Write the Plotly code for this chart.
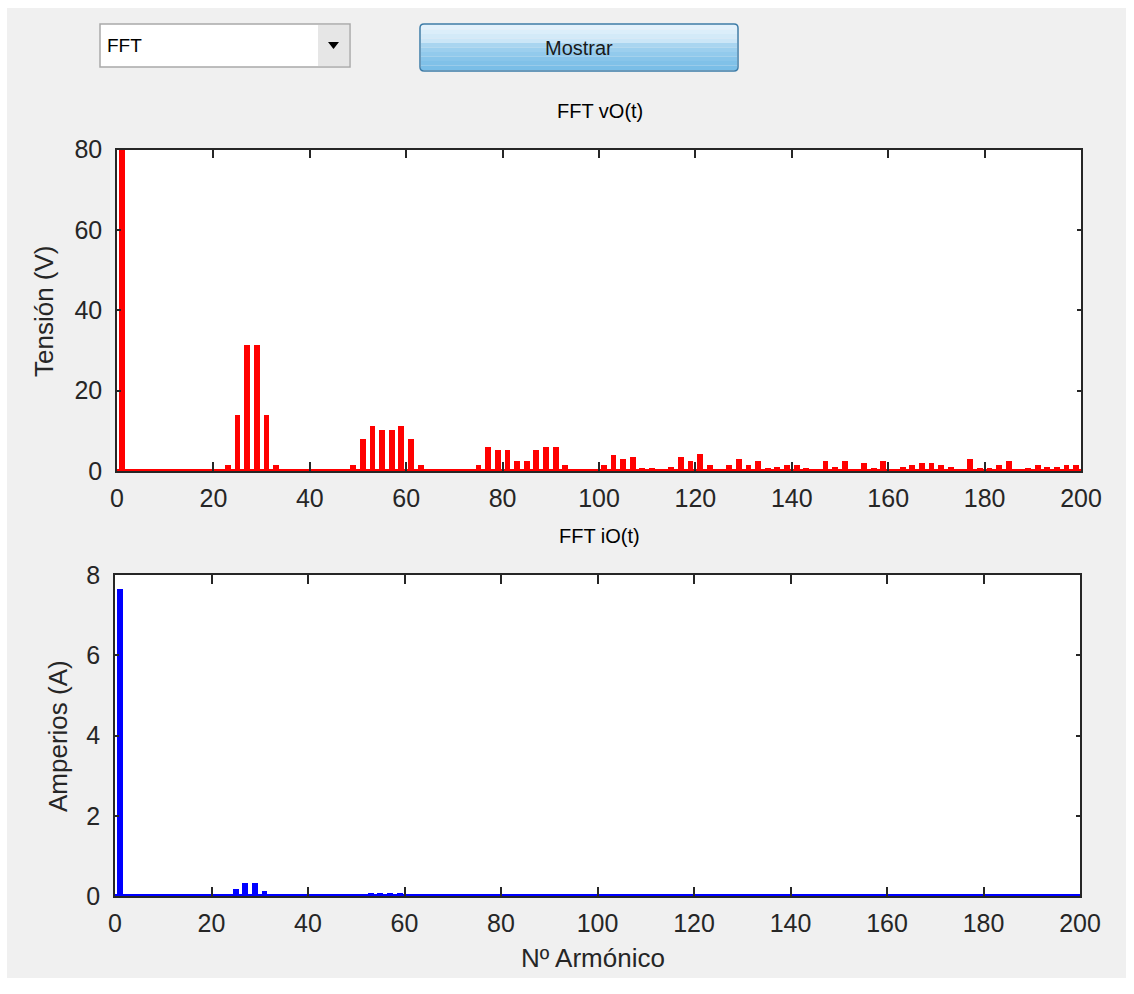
import plotly.graph_objects as go

# Odd harmonic orders 1..199 and the FFT magnitudes of the output voltage and current
armonicos = list(range(1, 200, 2))

# Amplitud de cada armónico de vO(t) [V]
tension_v = [
    100.0,                                                  # 1
    0, 0, 0, 0, 0, 0, 0, 0, 0, 0,                           # 3-21
    1.5, 14.0, 31.5, 31.5, 14.0, 1.5,                       # 23-33
    0, 0, 0, 0, 0, 0, 0,                                    # 35-47
    1.7, 8.2, 11.4, 10.3, 10.3, 11.4, 8.2, 1.7,             # 49-63
    0, 0, 0, 0, 0,                                          # 65-73
    1.7, 6.0, 5.4, 5.4, 2.7, 2.7, 5.4, 6.0, 6.0, 1.7,       # 75-93
    0, 0, 0,                                                # 95-99
    1.6, 4.2, 3.2, 3.7, 0.8, 0.8, 0, 1.1, 3.7, 2.7,         # 101-119
    4.3, 1.6, 0, 1.6, 3.1, 1.6, 2.7, 0.8, 1.1, 1.6,         # 121-139
    1.6, 0.8, 0, 2.7, 1.1, 2.7, 0, 2.2, 0.8, 2.7,           # 141-159
    0, 1.1, 1.6, 2.2, 2.2, 1.6, 1.1, 0, 3.2, 0.8,           # 161-179
    0.8, 1.6, 2.7, 0, 0.8, 1.6, 1.1, 1.1, 1.6, 1.6,         # 181-199
]

# Amplitud de cada armónico de iO(t) [A]
corriente_a = [
    7.65,                                                   # 1
    0, 0, 0, 0, 0, 0, 0, 0, 0, 0,                           # 3-21
    0.01, 0.17, 0.33, 0.33, 0.12, 0.01,                     # 23-33
    0, 0, 0, 0, 0, 0, 0,                                    # 35-47
    0.01, 0.04, 0.08, 0.08, 0.08, 0.08, 0.05, 0.01,         # 49-63
] + [0] * 68                                                # 65-199

x_ticks = list(range(0, 201, 20))
v_ticks = [0, 20, 40, 60, 80]
a_ticks = [0, 2, 4, 6, 8]
X_MAX = 200

# The page body keeps its default 8 px margin, so the figure is sized to fit
# inside the 1134x994 window without scrollbars.
PAGE_W, PAGE_H, BODY_M = 1134, 994, 8
W, H = PAGE_W - BODY_M, PAGE_H - 2 * BODY_M
BG = "#f0f0f0"
INK = "#262626"
FONT = "Liberation Sans, Arial, sans-serif"


def px(x):
    return x / W


def py(y):
    return 1 - y / H


fig = go.Figure()

fig.add_trace(go.Bar(x=armonicos, y=tension_v, width=1.2,
                     marker=dict(color="#ff0000", line=dict(width=0)),
                     xaxis="x", yaxis="y"))
fig.add_trace(go.Scatter(x=[0, X_MAX], y=[0, 0], mode="lines",
                         line=dict(color="#ff0000", width=4),
                         xaxis="x", yaxis="y", hoverinfo="skip"))
fig.add_trace(go.Bar(x=armonicos, y=corriente_a, width=1.2,
                     marker=dict(color="#0000ff", line=dict(width=0)),
                     xaxis="x2", yaxis="y2"))
fig.add_trace(go.Scatter(x=[0, X_MAX], y=[0, 0], mode="lines",
                         line=dict(color="#0000ff", width=4),
                         xaxis="x2", yaxis="y2", hoverinfo="skip"))

tick_font = dict(family=FONT, size=25, color=INK)
common_x = dict(range=[0, X_MAX], tickvals=x_ticks, ticks="inside", ticklen=9,
                tickwidth=1.5, tickcolor=INK, showline=True, linecolor=INK,
                linewidth=1.5, mirror="ticks", showgrid=False, zeroline=False,
                tickfont=tick_font, ticklabelstandoff=4, automargin=False)
common_y = dict(ticks="inside", ticklen=4, tickwidth=1.5, tickcolor=INK,
                showline=True, linecolor=INK, linewidth=1.5, mirror="ticks",
                showgrid=False, zeroline=False, tickfont=tick_font,
                ticklabelstandoff=8, automargin=False)

fig.update_layout(
    width=W, height=H,
    margin=dict(l=0, r=0, t=0, b=0, pad=0),
    paper_bgcolor=BG, plot_bgcolor="white",
    showlegend=False, bargap=0,
    xaxis=dict(domain=[px(117), px(1081)], anchor="y", **common_x),
    yaxis=dict(domain=[py(471), py(149.5)], anchor="x", range=[0, 80],
               tickvals=v_ticks, **common_y),
    xaxis2=dict(domain=[px(115), px(1080)], anchor="y2", **common_x),
    yaxis2=dict(domain=[py(896), py(575)], anchor="x2", range=[0, 8],
                tickvals=a_ticks, **common_y),
)

shapes = []
# white window border along the top and left edges
shapes.append(dict(type="rect", xref="paper", yref="paper", x0=0, x1=1,
                   y0=py(8), y1=1, fillcolor="white", line=dict(width=0)))
shapes.append(dict(type="rect", xref="paper", yref="paper", x0=0, x1=px(7),
                   y0=0, y1=1, fillcolor="white", line=dict(width=0)))

# popup menu
shapes.append(dict(type="rect", xref="paper", yref="paper",
                   x0=px(100), x1=px(350), y0=py(67), y1=py(24),
                   fillcolor="white", line=dict(color="#a9a9a9", width=1.5)))
shapes.append(dict(type="rect", xref="paper", yref="paper",
                   x0=px(318), x1=px(349), y0=py(66), y1=py(25),
                   fillcolor="#e6e6e6", line=dict(width=0)))
shapes.append(dict(type="path", xref="paper", yref="paper",
                   path=f"M {px(328)},{py(42)} L {px(339)},{py(42)} L {px(333.5)},{py(49)} Z",
                   fillcolor="black", line=dict(width=0)))

# push button with a vertical gradient
grad = ["#e3f1fb", "#dbeefa", "#d3eaf8", "#cbe6f7", "#a9d5f0",
        "#9ccfee", "#92caec", "#88c5ea", "#80c1e8", "#7abee7"]
top, bottom = 25, 70
step = (bottom - top) / len(grad)
for i, c in enumerate(grad):
    shapes.append(dict(type="rect", xref="paper", yref="paper",
                       x0=px(421), x1=px(737),
                       y0=py(top + (i + 1) * step), y1=py(top + i * step),
                       fillcolor=c, line=dict(width=0)))
shapes.append(dict(type="path", xref="paper", yref="paper",
                   path=(f"M {px(424)},{py(24)} L {px(734)},{py(24)} "
                         f"Q {px(738)},{py(24)} {px(738)},{py(28)} L {px(738)},{py(67)} "
                         f"Q {px(738)},{py(71)} {px(734)},{py(71)} L {px(424)},{py(71)} "
                         f"Q {px(420)},{py(71)} {px(420)},{py(67)} L {px(420)},{py(28)} "
                         f"Q {px(420)},{py(24)} {px(424)},{py(24)} Z"),
                   line=dict(color="#3d7ca8", width=1.5)))
fig.update_layout(shapes=shapes)

ann = [
    dict(text="FFT", x=px(105), y=py(46), xanchor="left", yanchor="middle",
         font=dict(family=FONT, size=19, color="black")),
    dict(text="Mostrar", x=px(579), y=py(48), xanchor="center", yanchor="middle",
         font=dict(family=FONT, size=20, color="#1a1a1a")),
    dict(text="FFT vO(t)", x=px(600), y=py(111), xanchor="center", yanchor="middle",
         font=dict(family=FONT, size=20, color="black")),
    dict(text="FFT iO(t)", x=px(599), y=py(536), xanchor="center", yanchor="middle",
         font=dict(family=FONT, size=20, color="black")),
    dict(text="Tensión (V)", x=px(44), y=py(311), xanchor="center", yanchor="middle",
         textangle=-90, font=dict(family=FONT, size=26, color=INK)),
    dict(text="Amperios (A)", x=px(58), y=py(736), xanchor="center", yanchor="middle",
         textangle=-90, font=dict(family=FONT, size=26, color=INK)),
    dict(text="Nº Armónico", x=px(593), y=py(958), xanchor="center", yanchor="middle",
         font=dict(family=FONT, size=26, color=INK)),
]
for a in ann:
    a.update(xref="paper", yref="paper", showarrow=False)
fig.update_layout(annotations=ann)

fig.write_html("out.html")
